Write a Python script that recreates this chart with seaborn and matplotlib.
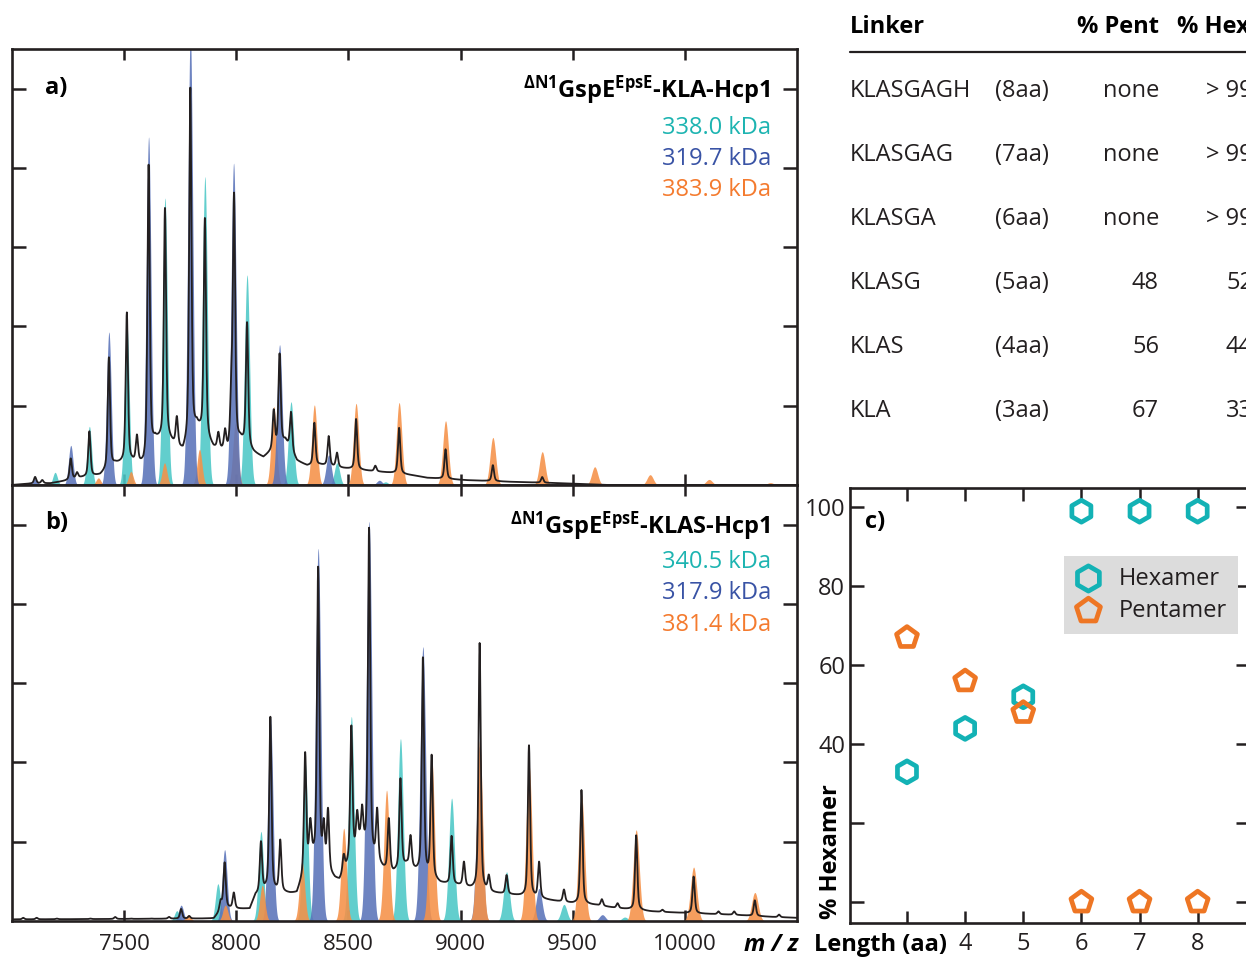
import numpy as np
import pandas as pd
import matplotlib
matplotlib.use("Agg")
import matplotlib.pyplot as plt
from matplotlib.lines import Line2D
import seaborn as sns

# ---------------- data ----------------
# panel a : KLA linker, charge-state series (m/z, relative height)
a_cyan_mz = [7192, 7345, 7512, 7682, 7860, 8048, 8244, 8449, 8665]
a_cyan_h = [0.16, 0.74, 2.04, 3.62, 3.89, 2.65, 1.05, 0.28, 0.04]
a_blue_mz = [7103, 7262, 7432, 7609, 7795, 7988, 8193, 8412, 8638]
a_blue_h = [0.08, 0.50, 1.93, 4.39, 5.70, 4.06, 1.77, 0.38, 0.06]
a_orange_mz = [7385, 7530, 7680, 7836, 7996, 8167, 8348, 8534, 8726, 8933,
               9144, 9364, 9598, 9845, 10108, 10381]
a_orange_h = [0.09, 0.17, 0.28, 0.45, 0.78, 0.99, 1.01, 1.03, 1.04, 0.81,
              0.60, 0.42, 0.23, 0.13, 0.07, 0.03]
a_black_mz = [7103, 7135, 7262, 7290, 7345, 7432, 7512, 7557, 7609, 7682,
              7735, 7795, 7860, 7920, 7950, 7978, 7990, 8048, 8167, 8193,
              8244, 8348, 8412, 8449, 8534, 8620, 8726, 8933, 9144, 9364]
a_black_h = [0.10, 0.06, 0.33, 0.15, 0.67, 1.60, 2.16, 0.59, 4.02, 3.47,
             0.82, 4.99, 3.34, 0.63, 0.65, 1.07, 3.59, 2.03, 0.92, 1.64,
             0.91, 0.78, 0.61, 0.40, 0.83, 0.24, 0.72, 0.45, 0.25, 0.10]
a_base_mz = [7000, 7100, 7170, 7237, 7304, 7393, 7460, 7534, 7586, 7638,
             7700, 7762, 7824, 7899, 7963, 8018, 8077, 8121, 8219, 8271,
             8316, 8375, 8478, 8583, 8702, 8790, 8851, 9030, 9223, 9476,
             9650, 10500]
a_base_v = [0.0, 0.02, 0.02, 0.05, 0.09, 0.12, 0.26, 0.28, 0.24, 0.55,
            0.55, 0.40, 0.72, 0.45, 0.40, 0.55, 0.40, 0.34, 0.55, 0.30,
            0.24, 0.25, 0.21, 0.18, 0.15, 0.12, 0.09, 0.06, 0.04, 0.02,
            0.0, 0.0]

# panel b : KLAS linker
b_cyan_mz = [7735, 7918, 8110, 8307, 8513, 8732, 8960, 9205, 9461, 9732]
b_cyan_h = [0.13, 0.47, 1.13, 2.00, 2.58, 2.30, 1.55, 0.62, 0.21, 0.05]
b_blue_mz = [7754, 7948, 8152, 8365, 8592, 8832, 9084, 9350, 9632]
b_blue_h = [0.20, 0.90, 2.57, 4.70, 5.04, 3.46, 2.20, 0.41, 0.08]
b_orange_mz = [7786, 7951, 8116, 8293, 8479, 8670, 8871, 9085, 9305, 9539,
               9783, 10039, 10312]
b_orange_h = [0.08, 0.20, 0.45, 0.75, 1.17, 1.65, 2.07, 2.28, 1.97, 1.59,
              1.15, 0.68, 0.36]
b_black_mz = [7050, 7110, 7200, 7350, 7460, 7530, 7620, 7700, 7754, 7790,
              7930, 7948, 7989, 8110, 8152, 8196, 8307, 8330, 8365, 8390,
              8409, 8479, 8513, 8539, 8561, 8592, 8628, 8680, 8732, 8777,
              8832, 8871, 8960, 9015, 9085, 9126, 9205, 9305, 9350, 9461,
              9539, 9630, 9700, 9783, 9900, 10039, 10150, 10220, 10312,
              10420]
b_black_h = [0.04, 0.04, 0.03, 0.03, 0.05, 0.03, 0.03, 0.05, 0.15, 0.06,
             0.24, 0.73, 0.35, 0.98, 2.56, 1.00, 2.09, 1.19, 4.43, 1.15,
             1.36, 0.80, 2.43, 1.31, 1.36, 4.93, 1.36, 1.27, 1.78, 1.05,
             3.30, 2.06, 1.06, 0.73, 3.50, 0.55, 0.57, 2.21, 0.73, 0.39,
             1.65, 0.27, 0.22, 1.08, 0.14, 0.56, 0.12, 0.12, 0.26, 0.08]
b_base_mz = [7000, 7900, 7940, 7970, 8000, 8060, 8085, 8130, 8240, 8270,
             8335, 8440, 8460, 8550, 8655, 8700, 8760, 8800, 8910, 9000,
             9050, 9150, 9250, 9400, 9500, 9600, 9700, 9850, 10000, 10200,
             10400, 10500]
b_base_v = [0.02, 0.03, 0.16, 0.16, 0.15, 0.15, 0.32, 0.38, 0.34, 0.34,
            0.80, 0.52, 0.50, 0.95, 0.65, 0.60, 0.70, 0.62, 0.47, 0.44,
            0.40, 0.35, 0.32, 0.26, 0.22, 0.20, 0.16, 0.12, 0.10, 0.08,
            0.05, 0.04]

# table and panel c
linker_names = ["KLASGAGH", "KLASGAG", "KLASGA", "KLASG", "KLAS", "KLA"]
linker_len_lbl = ["(8aa)", "(7aa)", "(6aa)", "(5aa)", "(4aa)", "(3aa)"]
pent_lbl = ["none", "none", "none", "48", "56", "67"]
hex_lbl = ["> 99", "> 99", "> 99", "52", "44", "33"]
length_aa = [3, 4, 5, 6, 7, 8]
hexamer_pct = [33, 44, 52, 99, 99, 99]
pentamer_pct = [67, 56, 48, 0, 0, 0]

masses_a = ["338.0 kDa", "319.7 kDa", "383.9 kDa"]
masses_b = ["340.5 kDa", "317.9 kDa", "381.4 kDa"]

# ---------------- style ----------------
sns.set_theme(style="ticks")
plt.rcParams["font.family"] = ["Open Sans", "DejaVu Sans"]
plt.rcParams["mathtext.fontset"] = "custom"
plt.rcParams["mathtext.rm"] = "Open Sans:bold"
plt.rcParams["mathtext.bf"] = "Open Sans:bold"
plt.rcParams["mathtext.it"] = "Open Sans:bold"

K = "#231f20"
C_FILL, B_FILL, O_FILL = "#4cc8c6", "#5a73b9", "#f59148"
C_TXT, B_TXT, O_TXT = "#1db4b1", "#3953a5", "#f47b2f"
C_MK, O_MK = "#13b2b5", "#ee7624"

W, H = 1246, 957
fig = plt.figure(figsize=(W / 100, H / 100), dpi=100)


def fx(px):
    return px / W


def fy(py):
    return 1 - py / H


mz = np.arange(7000, 10500.5, 0.5)


def series_curve(centers, heights):
    y = np.zeros_like(mz)
    for c, h in zip(centers, heights):
        s = 0.0014 * c
        y += h * np.exp(-0.5 * ((mz - c) / s) ** 2)
    return y


def black_curve(centers, heights, bmz, bv):
    base = np.interp(mz, bmz, bv)
    y = base.copy()
    g = 6.0
    for c, h in zip(centers, heights):
        amp = max(h - np.interp(c, bmz, bv), 0)
        d = mz - c
        y += amp * (0.5 * np.exp(-0.5 * (d / 5.0) ** 2)
                    + 0.5 * g ** 2 / (d ** 2 + g ** 2))
    return y


def spectrum_axes(rect, fills, black, title, masses, letter, ylet, ys):
    ax = fig.add_axes(rect)
    for cen, hei, col in fills:
        yy = series_curve(cen, hei)
        ax.fill_between(mz, 0, yy, color=col, alpha=0.88, lw=0)
    df = pd.DataFrame({"mz": mz, "I": black})
    sns.lineplot(data=df, x="mz", y="I", ax=ax, color=K, lw=1.3,
                 estimator=None, zorder=5)
    ax.set_xlim(7000, 10500)
    ax.set_ylim(0, 5.5)
    ax.set_xticks([7500, 8000, 8500, 9000, 9500, 10000])
    ax.set_yticks([1, 2, 3, 4, 5])
    ax.set_xlabel("")
    ax.set_ylabel("")
    ax.tick_params(axis="both", direction="in", color=K, width=1.8,
                   top=True, right=True, labelleft=False, labelsize=16,
                   labelcolor=K)
    ax.tick_params(axis="y", length=10)
    ax.tick_params(axis="x", length=8, pad=9)
    for sp in ax.spines.values():
        sp.set_linewidth(1.9)
        sp.set_color(K)
        sp.set_visible(True)
    ax.text(0.042, ylet, letter,
            transform=ax.transAxes, fontsize=17, fontweight="bold",
            va="center", ha="left", color="black")
    ax.text(0.9656, ys[0], title, transform=ax.transAxes, fontsize=17,
            fontweight="bold", ha="right", va="center", color="black")
    for txt, col, yv in zip(masses, [C_TXT, B_TXT, O_TXT], ys[1:]):
        ax.text(0.9669, yv, txt, transform=ax.transAxes, fontsize=17,
                ha="right", va="center", color=col)
    return ax


ax_a = spectrum_axes(
    [fx(12), fy(485), fx(785), 436 / H],
    [(a_cyan_mz, a_cyan_h, C_FILL), (a_orange_mz, a_orange_h, O_FILL),
     (a_blue_mz, a_blue_h, B_FILL)],
    black_curve(a_black_mz, a_black_h, a_base_mz, a_base_v),
    r"$^{\Delta N1}$GspE$^{EpsE}$-KLA-Hcp1", masses_a, "a)", 0.911,
    [0.904, 0.819, 0.748, 0.676])
ax_a.tick_params(labelbottom=False)

ax_b = spectrum_axes(
    [fx(12), fy(921), fx(785), 436 / H],
    [(b_cyan_mz, b_cyan_h, C_FILL), (b_blue_mz, b_blue_h, B_FILL),
     (b_orange_mz, b_orange_h, O_FILL)],
    black_curve(b_black_mz, b_black_h, b_base_mz, b_base_v),
    r"$^{\Delta N1}$GspE$^{EpsE}$-KLAS-Hcp1", masses_b, "b)", 0.913,
    [0.905, 0.823, 0.752, 0.678])

fig.text(fx(771), fy(945), "m / z", fontsize=17, fontweight="bold",
         fontstyle="italic", ha="center", va="center", color="black")

# ---------------- table ----------------
fig.text(fx(850), fy(27), "Linker", fontsize=17, fontweight="bold",
         ha="left", va="center", color="black")
fig.text(fx(1159), fy(27), "% Pent", fontsize=17, fontweight="bold",
         ha="right", va="center", color="black")
fig.text(fx(1177), fy(27), "% Hex", fontsize=17, fontweight="bold",
         ha="left", va="center", color="black")
fig.add_artist(Line2D([fx(850), fx(1260)], [fy(52), fy(52)], color=K,
                      lw=1.6))
row_y = [91, 155, 219, 283, 347, 411]
for nm, ln, pv, hv, yy in zip(linker_names, linker_len_lbl, pent_lbl,
                              hex_lbl, row_y):
    fig.text(fx(850), fy(yy), nm, fontsize=17, ha="left", va="center",
             color=K)
    fig.text(fx(995), fy(yy), ln, fontsize=17, ha="left", va="center",
             color=K)
    fig.text(fx(1159), fy(yy), pv, fontsize=17, ha="right", va="center",
             color=K)
    fig.text(fx(1253), fy(yy), hv, fontsize=17, ha="right", va="center",
             color=K)

# ---------------- panel c ----------------
ax_c = fig.add_axes([fx(850), fy(922.7), 400 / W, 434.4 / H])
sns.scatterplot(x=length_aa, y=hexamer_pct, ax=ax_c, marker="h", s=250,
                facecolor="none", edgecolor=C_MK, linewidth=3.4,
                label="Hexamer", zorder=4, clip_on=False)
sns.scatterplot(x=length_aa, y=pentamer_pct, ax=ax_c, marker="p", s=250,
                facecolor="none", edgecolor=O_MK, linewidth=3.4,
                label="Pentamer", zorder=4, clip_on=False)
ax_c.set_xlim(2.02, 8.9)
ax_c.set_ylim(-5.2, 104.8)
ax_c.set_xticks(length_aa)
ax_c.set_xticklabels(["", "4", "5", "6", "7", "8"])
ax_c.set_yticks([0, 20, 40, 60, 80, 100])
ax_c.set_yticklabels(["", "", "40", "60", "80", "100"])
ax_c.tick_params(axis="both", direction="in", color=K, width=1.8,
                 top=True, right=True, labelsize=17, labelcolor=K)
ax_c.tick_params(axis="y", length=10)
ax_c.tick_params(axis="x", length=9, pad=7)
for sp in ax_c.spines.values():
    sp.set_linewidth(1.9)
    sp.set_color(K)
ax_c.set_xlabel("")
ax_c.set_ylabel("% Hexamer", fontsize=17, fontweight="bold", color="black")
ax_c.yaxis.set_label_coords(-0.018, 0.164)
ax_c.text(2.54, -0.052, "Length (aa)", transform=ax_c.get_xaxis_transform(),
          fontsize=17, fontweight="bold", ha="center", va="center",
          color="black")
ax_c.text(0.0375, 0.922, "c)", transform=ax_c.transAxes, fontsize=17,
          fontweight="bold", ha="left", va="center", color="black")
leg = ax_c.legend(loc="upper right", bbox_to_anchor=(0.97, 0.844),
                  borderaxespad=0, fontsize=17, frameon=True,
                  fancybox=False, framealpha=1, facecolor="#dcdcdc",
                  edgecolor="none", handletextpad=0.7, borderpad=0.45,
                  labelspacing=0.35, handlelength=1.2, markerscale=1.15)
for t in leg.get_texts():
    t.set_color(K)

fig.savefig("out.png", dpi=100)
